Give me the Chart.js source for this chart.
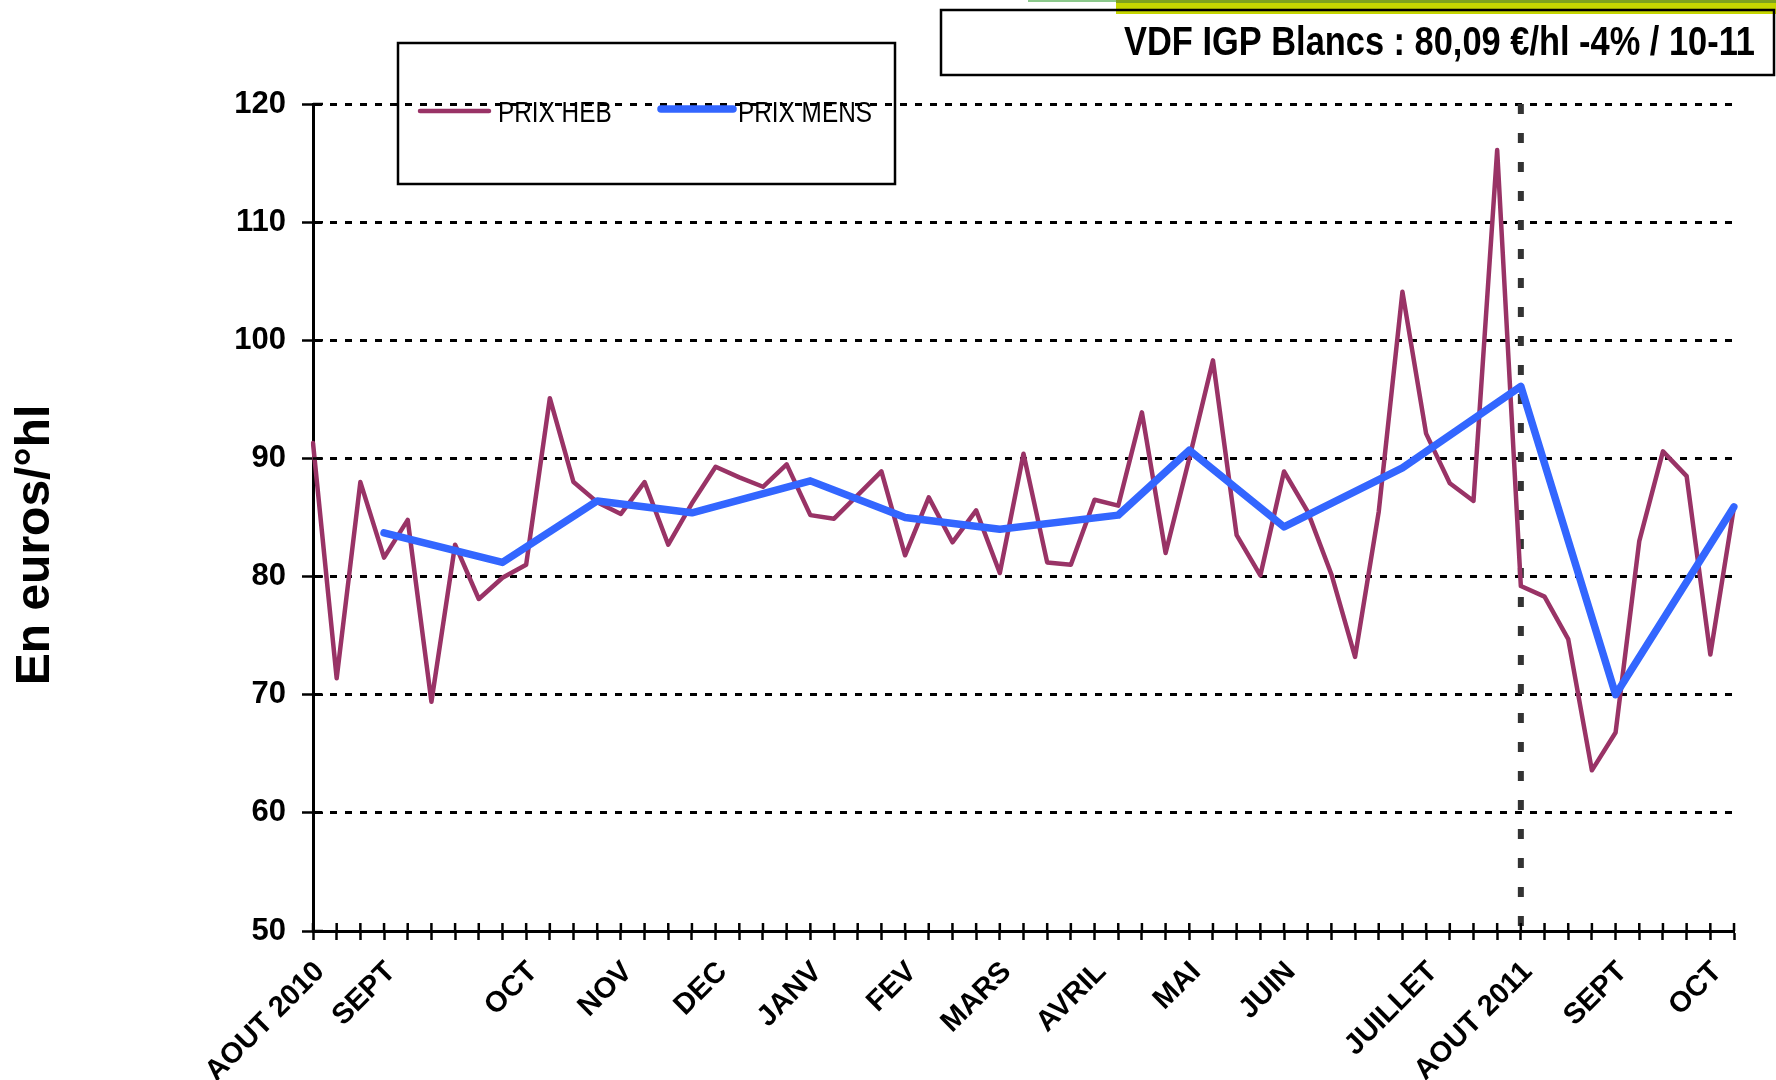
<!DOCTYPE html>
<html>
<head>
<meta charset="utf-8">
<title>VDF IGP Blancs</title>
<script src="https://cdn.jsdelivr.net/npm/chart.js@4.4.0/dist/chart.umd.min.js"></script>
<style>
    html, body { margin: 0; padding: 0; background: #fff; }
    #wrap { width: 1776px; height: 1080px; }
</style>
</head>
<body>
<div id="wrap"><canvas id="prix-chart"></canvas></div>
<script>
// weekly axis: 61 weeks, month names placed on some of them
var monthLabels = ['AOUT 2010', 'SEPT', 'OCT', 'NOV', 'DEC', 'JANV', 'FEV', 'MARS', 'AVRIL', 'MAI', 'JUIN', 'JUILLET', 'AOUT 2011', 'SEPT', 'OCT'];
var monthWeeks = [0, 3, 9, 13, 17, 21, 25, 29, 33, 37, 41, 47, 51, 55, 59];

var prixHeb = [91.3, 71.4, 88.0, 81.6, 84.8, 69.4, 82.7, 78.1, 79.9, 81.0,
    95.1, 88.0, 86.3, 85.3, 88.0, 82.7, 86.2, 89.3, 88.4, 87.6,
    89.5, 85.2, 84.9, 86.9, 88.9, 81.8, 86.7, 82.9, 85.6, 80.3,
    90.4, 81.2, 81.0, 86.5, 86.0, 93.9, 82.0, 90.0, 98.3, 83.5,
    80.1, 88.9, 85.5, 80.2, 73.2, 85.5, 104.1, 92.1, 87.9, 86.4,
    116.1, 79.2, 78.3, 74.7, 63.6, 66.8, 83.0, 90.6, 88.5, 73.4,
    85.9];

var prixMensWeeks = [3, 8, 12, 16, 21, 25, 29, 34, 37, 41, 46, 51, 55, 60];
var prixMens = [83.7, 81.2, 86.4, 85.4, 88.1, 85.0, 84.0, 85.2, 90.7, 84.2, 89.2, 96.1, 70.0, 85.9];

var yMin = 50, yMax = 120, yStep = 10;
var markerLabel = 'AOUT 2011';
var titleText = 'VDF IGP Blancs : 80,09 \u20ac/hl -4% / 10-11';
var yTitle = 'En euros/\u00b0hl';

var FONT = '"Liberation Sans", Arial, sans-serif';

var labels = prixHeb.map(function () { return ''; });
monthLabels.forEach(function (m, i) { labels[monthWeeks[i]] = m; });

var mensData = prixHeb.map(function () { return null; });
prixMensWeeks.forEach(function (w, i) { mensData[w] = prixMens[i]; });

// narrow text, like the Arial Narrow of the original
function narrowText(ctx, text, x, y, font, align, squeeze) {
    ctx.save();
    ctx.translate(x, y);
    ctx.scale(squeeze, 1);
    ctx.font = font;
    ctx.textAlign = align;
    ctx.textBaseline = 'middle';
    ctx.fillStyle = '#000';
    ctx.fillText(text, 0, 0);
    ctx.restore();
}

var decor = {
    id: 'decor',
    beforeDraw: function (chart) {
        var ctx = chart.ctx;
        ctx.save();
        ctx.fillStyle = '#fff';
        ctx.fillRect(0, 0, chart.width, chart.height);
        // bars at the top right
        ctx.fillStyle = '#8cc98c';
        ctx.fillRect(1028, 0, 88, 2);
        ctx.fillStyle = '#c6d600';
        ctx.fillRect(1116, 0, 660, 14);
        ctx.fillStyle = '#7fa21e';
        ctx.fillRect(1116, 0, 660, 3);
        ctx.restore();
    },
    beforeDatasetsDraw: function (chart) {
        var ctx = chart.ctx;
        var x = chart.scales.x.getPixelForValue(labels.indexOf(markerLabel));
        var area = chart.chartArea;
        ctx.save();
        ctx.strokeStyle = '#333';
        ctx.lineWidth = 6;
        ctx.setLineDash([10, 19]);
        ctx.beginPath();
        ctx.moveTo(x, area.top);
        ctx.lineTo(x, area.bottom);
        ctx.stroke();
        ctx.restore();
    },
    afterDraw: function (chart) {
        var ctx = chart.ctx;
        var xs = chart.scales.x, ys = chart.scales.y;
        var area = chart.chartArea;
        ctx.save();
        ctx.strokeStyle = '#000';
        ctx.lineWidth = 2.5;
        // tick marks crossing the axes
        ctx.beginPath();
        for (var i = 0; i < labels.length; i++) {
            var px = xs.getPixelForValue(i);
            ctx.moveTo(px, area.bottom - 8);
            ctx.lineTo(px, area.bottom);
        }
        for (var v = yMin; v <= yMax; v += yStep) {
            var py = ys.getPixelForValue(v);
            ctx.moveTo(area.left, py);
            ctx.lineTo(area.left + 10, py);
        }
        ctx.stroke();

        // legend box
        ctx.lineWidth = 2.5;
        ctx.strokeRect(398, 43, 497, 141);
        var ds = chart.data.datasets;
        var items = [
            { d: ds[0], x1: 420, x2: 489, y: 111, tx: 498 },
            { d: ds[1], x1: 661, x2: 733, y: 109, tx: 738 }
        ];
        items.forEach(function (it) {
            ctx.strokeStyle = it.d.borderColor;
            ctx.lineWidth = it.d.borderWidth;
            ctx.lineCap = 'round';
            ctx.beginPath();
            ctx.moveTo(it.x1, it.y);
            ctx.lineTo(it.x2, it.y);
            ctx.stroke();
            narrowText(ctx, it.d.label, it.tx, 114, '29px ' + FONT, 'left', 0.84);
        });

        // title box
        ctx.strokeStyle = '#000';
        ctx.lineWidth = 2.5;
        ctx.lineCap = 'butt';
        ctx.strokeRect(941, 10, 833, 65);
        narrowText(ctx, titleText, 1755, 44, 'bold 40px ' + FONT, 'right', 0.86);

        // y axis title
        ctx.translate(36, 545);
        ctx.rotate(-Math.PI / 2);
        ctx.fillStyle = '#000';
        ctx.font = 'bold 48px ' + FONT;
        ctx.textAlign = 'center';
        ctx.textBaseline = 'middle';
        ctx.fillText(yTitle, 0, 0);
        ctx.restore();
    }
};

var ctx = document.getElementById('prix-chart').getContext('2d');
new Chart(ctx, {
    type: 'line',
    data: {
        labels: labels,
        datasets: [{
            label: 'PRIX HEB',
            data: prixHeb,
            borderColor: '#993366',
            borderWidth: 4.5,
            pointRadius: 0,
            borderJoinStyle: 'round',
            borderCapStyle: 'round',
            tension: 0,
            order: 1
        }, {
            label: 'PRIX MENS',
            data: mensData,
            borderColor: '#3366ff',
            borderWidth: 7.5,
            pointRadius: 0,
            spanGaps: true,
            borderJoinStyle: 'round',
            borderCapStyle: 'round',
            tension: 0,
            order: 0
        }]
    },
    options: {
        responsive: true,
        maintainAspectRatio: false,
        animation: false,
        devicePixelRatio: 1,
        layout: { padding: { left: 213, right: 42, top: 104, bottom: 0 } },
        plugins: { legend: { display: false }, tooltip: { enabled: false } },
        scales: {
            x: {
                afterFit: function (scale) { scale.height = 149; },
                grid: { drawOnChartArea: false, tickLength: 9, tickWidth: 2.5, tickColor: '#000' },
                border: { color: '#000', width: 3 },
                ticks: {
                    autoSkip: false,
                    minRotation: 45,
                    maxRotation: 45,
                    labelOffset: 7,
                    padding: 15,
                    color: '#000',
                    font: { family: FONT, size: 29, weight: 'bold' }
                }
            },
            y: {
                min: yMin,
                max: yMax,
                afterFit: function (scale) { scale.width = 100; },
                grid: { color: '#000', lineWidth: 3, tickLength: 11, tickWidth: 2.5, tickColor: '#000', tickBorderDash: [] },
                border: { color: '#000', width: 3, dash: [7, 8] },
                ticks: {
                    stepSize: yStep,
                    padding: 16,
                    color: '#000',
                    font: { family: FONT, size: 31, weight: 'bold' }
                }
            }
        }
    },
    plugins: [decor]
});
</script>
</body>
</html>
